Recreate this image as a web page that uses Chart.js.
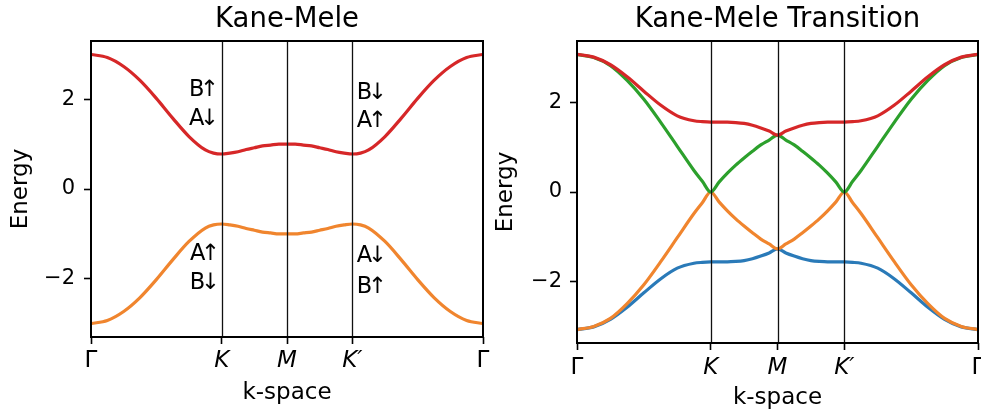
<!DOCTYPE html>
<html>
<head>
<meta charset="utf-8">
<script src="https://cdn.jsdelivr.net/npm/chart.js@4.4.0/dist/chart.umd.min.js"></script>
<style>
  html, body { margin: 0; padding: 0; background: #fff; }
  #wrap { position: relative; width: 981px; height: 417px; }
  canvas { position: absolute; top: 0; }
  #kmLeft { left: 0; }
  #kmRight { left: 490px; }
</style>
</head>
<body>
<div id="wrap">
  <canvas id="kmLeft" width="490" height="417"></canvas>
  <canvas id="kmRight" width="491" height="417"></canvas>
</div>
<script>
// path through the Brillouin zone: Γ -> K -> M -> K' -> Γ (segment lengths 2:1:1:2)
const kPos = [0, 0.25, 0.5, 0.75, 1, 1.25, 1.5, 1.75, 1.875, 2, 2.125, 2.25, 2.375, 2.5, 2.625, 2.75, 2.875, 3,
              3.125, 3.25, 3.375, 3.5, 3.625, 3.75, 3.875, 4, 4.125, 4.25, 4.5, 4.75, 5, 5.25, 5.5, 5.75, 6];
const kTicks = [0, 2, 3, 4, 6];
const kLabels = ['Γ', 'K', 'M', 'K′', 'Γ'];
const yTicks = [-2, 0, 2];

// Kane-Mele (left)
const kmUpper = [3.00, 2.93, 2.73, 2.42, 2.02, 1.58, 1.17, 0.87, 0.80, 0.78, 0.80, 0.83, 0.88, 0.92, 0.96, 0.98, 1.00, 1.00,
                 1.00, 0.98, 0.96, 0.92, 0.88, 0.83, 0.80, 0.78, 0.80, 0.87, 1.17, 1.58, 2.02, 2.42, 2.73, 2.93, 3.00];
const kmLower = [-3.00, -2.93, -2.73, -2.42, -2.02, -1.58, -1.17, -0.87, -0.80, -0.78, -0.80, -0.83, -0.88, -0.92, -0.96, -0.98, -1.00, -1.00,
                 -1.00, -0.98, -0.96, -0.92, -0.88, -0.83, -0.80, -0.78, -0.80, -0.87, -1.17, -1.58, -2.02, -2.42, -2.73, -2.93, -3.00];

// Kane-Mele transition (right)
const trRed    = [3.07, 3.01, 2.84, 2.57, 2.25, 1.94, 1.70, 1.59, 1.57, 1.56, 1.56, 1.56, 1.55, 1.53, 1.49, 1.43, 1.36, 1.27,
                  1.36, 1.43, 1.49, 1.53, 1.55, 1.56, 1.56, 1.56, 1.57, 1.59, 1.70, 1.94, 2.25, 2.57, 2.84, 3.01, 3.07];
const trGreen  = [3.07, 3.00, 2.82, 2.49, 2.07, 1.56, 1.02, 0.48, 0.24, 0.00, 0.22, 0.42, 0.60, 0.76, 0.91, 1.05, 1.16, 1.27,
                  1.16, 1.05, 0.91, 0.76, 0.60, 0.42, 0.22, 0.00, 0.24, 0.48, 1.02, 1.56, 2.07, 2.49, 2.82, 3.00, 3.07];
const trOrange = [-3.07, -3.00, -2.82, -2.49, -2.07, -1.56, -1.02, -0.48, -0.24, 0.00, -0.22, -0.42, -0.60, -0.76, -0.91, -1.05, -1.16, -1.27,
                  -1.16, -1.05, -0.91, -0.76, -0.60, -0.42, -0.22, 0.00, -0.24, -0.48, -1.02, -1.56, -2.07, -2.49, -2.82, -3.00, -3.07];
const trBlue   = [-3.07, -3.01, -2.84, -2.57, -2.25, -1.94, -1.70, -1.59, -1.57, -1.56, -1.56, -1.56, -1.55, -1.53, -1.49, -1.43, -1.36, -1.27,
                  -1.36, -1.43, -1.49, -1.53, -1.55, -1.56, -1.56, -1.56, -1.57, -1.59, -1.70, -1.94, -2.25, -2.57, -2.84, -3.01, -3.07];

// sublattice / spin labels on the left panel
const annotText = ['B↑', 'A↓', 'B↓', 'A↑', 'A↑', 'B↓', 'A↓', 'B↑'];
const annotX    = [1.73, 1.73, 4.30, 4.30, 1.745, 1.745, 4.30, 4.30];
const annotY    = [2.07, 1.42, 2.00, 1.38, -1.58, -2.24, -1.62, -2.31];

Chart.defaults.font.family = 'DejaVu Sans';
Chart.defaults.color = '#000';

const framePlugin = {
  id: 'frame',
  afterDatasetsDraw(chart, args, opts) {
    const {ctx, chartArea: a, scales: {x}} = chart;
    ctx.save();
    ctx.strokeStyle = '#111';
    ctx.lineWidth = 1.3;
    kTicks.slice(1, -1).forEach(v => {
      const px = Math.round(x.getPixelForValue(v)) + 0.5;
      ctx.beginPath();
      ctx.moveTo(px, a.top);
      ctx.lineTo(px, a.bottom);
      ctx.stroke();
    });
    ctx.strokeStyle = '#000';
    ctx.lineWidth = 2;
    ctx.strokeRect(a.left, a.top, a.right - a.left, a.bottom - a.top);
    // panel title, centred over the plot area
    ctx.fillStyle = '#000';
    ctx.font = '27.5px "DejaVu Sans"';
    ctx.textAlign = 'center';
    ctx.textBaseline = 'alphabetic';
    ctx.fillText(opts.text, (a.left + a.right) / 2, 26.5);
    ctx.restore();
  }
};

const labelPlugin = {
  id: 'bandLabels',
  afterDatasetsDraw(chart, args, opts) {
    if (!opts.show) return;
    const {ctx, scales: {x, y}} = chart;
    ctx.save();
    ctx.font = '22.5px "DejaVu Sans"';
    ctx.fillStyle = '#000';
    ctx.textAlign = 'center';
    ctx.textBaseline = 'alphabetic';
    ctx.letterSpacing = '-4px';
    annotText.forEach((t, i) => {
      ctx.fillText(t, x.getPixelForValue(annotX[i]) - 2, y.getPixelForValue(annotY[i]));
    });
    ctx.restore();
  }
};

function makePanel(id, c) {
  return new Chart(document.getElementById(id), {
    type: 'line',
    data: {
      datasets: c.series.map(s => ({
        data: kPos.map((k, i) => ({x: k, y: s.values[i]})),
        borderColor: s.color,
        borderWidth: 3.2,
        pointRadius: 0,
        fill: false,
        cubicInterpolationMode: 'monotone'
      }))
    },
    options: {
      responsive: false,
      animation: false,
      events: [],
      layout: { padding: { left: 0, right: c.padRight, top: 41, bottom: 0 } },
      plugins: {
        legend: { display: false },
        tooltip: { enabled: false },
        title: { display: false },
        frame: { text: c.title },
        bandLabels: { show: c.annotate }
      },
      scales: {
        x: {
          type: 'linear',
          min: 0,
          max: 6,
          afterBuildTicks: s => { s.ticks = kTicks.map(v => ({value: v})); },
          afterFit: s => { s.height = c.xHeight; s.paddingLeft = 0; s.paddingRight = 0; },
          ticks: {
            autoSkip: false,
            maxRotation: 0,
            minRotation: 0,
            padding: c.xTickPad,
            color: '#000',
            font: ctx => ({ family: 'DejaVu Sans', size: 23, style: (ctx.index > 0 && ctx.index < 4) ? 'italic' : 'normal' }),
            callback: (v, i) => kLabels[i]
          },
          grid: { drawOnChartArea: false, drawTicks: true, tickLength: 7, tickColor: '#000', tickWidth: 1.6 },
          border: { display: false },
          title: { display: true, text: 'k-space', color: '#000', font: { size: 23 }, padding: { top: 0, bottom: c.xTitlePad } }
        },
        y: {
          type: 'linear',
          min: -c.yMax,
          max: c.yMax,
          afterBuildTicks: s => { s.ticks = yTicks.map(v => ({value: v})); },
          afterFit: s => { s.width = c.yWidth; s.paddingTop = 0; s.paddingBottom = 0; },
          ticks: {
            padding: c.yTickPad,
            color: '#000',
            font: { size: 21 },
            callback: v => v < 0 ? '\u2212' + Math.abs(v) : String(v)
          },
          grid: { drawOnChartArea: false, drawTicks: true, tickLength: 7, tickColor: '#000', tickWidth: 1.6 },
          border: { display: false },
          title: { display: true, text: 'Energy', color: '#000', font: { size: 23 }, padding: { top: c.yTitlePad, bottom: 0 } }
        }
      }
    },
    plugins: [framePlugin, labelPlugin]
  });
}

makePanel('kmLeft', {
  title: 'Kane-Mele',
  series: [
    { values: kmUpper, color: '#d62728' },
    { values: kmLower, color: '#f0852e' }
  ],
  yMax: 3.3, yWidth: 91, xHeight: 80, padRight: 7,
  xTickPad: 3.5, yTickPad: 9, xTitlePad: 10, yTitlePad: 7,
  annotate: true
});

makePanel('kmRight', {
  title: 'Kane-Mele Transition',
  series: [
    { values: trRed, color: '#d62728' },
    { values: trGreen, color: '#2ca02c' },
    { values: trOrange, color: '#f0852e' },
    { values: trBlue, color: '#2a7ab8' }
  ],
  yMax: 3.37, yWidth: 87, xHeight: 74, padRight: 3,
  xTickPad: 4.5, yTickPad: 8, xTitlePad: 5, yTitlePad: 2,
  annotate: false
});
</script>
</body>
</html>
